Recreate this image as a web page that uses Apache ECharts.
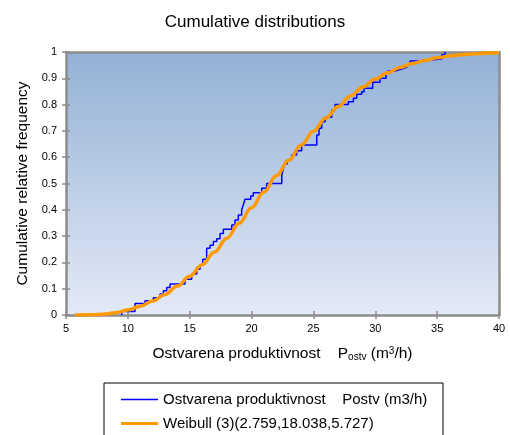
<!DOCTYPE html>
<html>
<head>
<meta charset="utf-8">
<script src="https://cdn.jsdelivr.net/npm/echarts@6/dist/echarts.min.js"></script>
<style>
html,body{margin:0;padding:0;background:#fff;}
#c{width:510px;height:435px;}
</style>
</head>
<body>
<div id="c"></div>
<script>
// Empirical cumulative distribution (step jumps): x values and cumulative frequency after jump
var empX = [9.50, 9.50, 10.58, 11.39, 12.06, 12.60, 12.87, 13.14, 13.41, 14.62, 15.16, 15.57, 15.83, 16.05, 16.37,
            16.64, 16.91, 17.18, 17.45, 17.72, 18.40, 18.66, 18.93, 19.20, 19.33, 19.47, 19.93, 20.14, 20.82, 21.22,
            22.44, 22.57, 22.70, 22.89, 23.24, 23.64, 24.05, 25.27, 25.45, 25.67, 25.94, 26.48, 26.75, 27.82, 28.23,
            28.50, 28.90, 29.09, 29.79, 30.38, 30.87, 31.03, 31.60, 32.14, 32.54, 32.81, 33.35, 35.37, 35.64];
var empY = [0, 0.013, 0.044, 0.054, 0.066, 0.080, 0.092, 0.105, 0.118, 0.136, 0.156, 0.174, 0.190, 0.212, 0.254,
            0.265, 0.279, 0.290, 0.310, 0.326, 0.342, 0.361, 0.380, 0.400, 0.418, 0.440, 0.452, 0.465, 0.482, 0.500,
            0.532, 0.556, 0.575, 0.590, 0.608, 0.625, 0.646, 0.684, 0.710, 0.735, 0.752, 0.779, 0.800, 0.811, 0.824,
            0.839, 0.849, 0.862, 0.885, 0.900, 0.919, 0.928, 0.935, 0.942, 0.950, 0.966, 0.973, 0.990, 1.000];
// Fitted Weibull (3) curve
var fitX = [5.73, 7, 8, 9, 10, 11, 12, 13, 14, 15, 16, 17, 18, 19, 20, 21, 22, 23, 24, 25, 26, 27, 28, 29, 30,
            31, 32, 33, 34, 35, 36, 37, 38, 39, 40];
var fitY = [0, 0.001, 0.003, 0.009, 0.019, 0.033, 0.053, 0.078, 0.110, 0.147, 0.191, 0.239, 0.292, 0.349, 0.408,
            0.468, 0.529, 0.588, 0.645, 0.699, 0.749, 0.793, 0.833, 0.867, 0.897, 0.921, 0.941, 0.956, 0.968, 0.978,
            0.985, 0.990, 0.993, 0.996, 0.997];
var seriesNames = ['Ostvarena produktivnost    Postv (m3/h)', 'Weibull (3)(2.759,18.038,5.727)'];
var titleText = 'Cumulative distributions';
var yName = 'Cumulative relative frequency';

function pairs(xs, ys) { return xs.map(function (x, i) { return [x, ys[i]]; }); }

var FONT = '"Liberation Sans", Arial, sans-serif';
var gray = '#8c8c8c';
var chart = echarts.init(document.getElementById('c'), null, {renderer: 'canvas'});
var axisX = {min: 5, max: 40, interval: 5};
var axisY = {min: 0, max: 1, interval: 0.1};
var legTxt = {fontFamily: FONT, fontSize: 15, color: '#000'};
chart.setOption({
  animation: false,
  backgroundColor: '#fff',
  title: {text: titleText, left: 'center', top: 9,
    textStyle: {fontFamily: FONT, fontSize: 17, fontWeight: 'normal', color: '#000'}},
  grid: {left: 66, right: 11, top: 52, bottom: 120, show: true, borderWidth: 0,
    backgroundColor: {type: 'linear', x: 0, y: 0, x2: 0, y2: 1,
      colorStops: [{offset: 0, color: '#93b1d6'}, {offset: 1, color: '#e4eaf6'}]}},
  xAxis: [
    Object.assign({type: 'value', position: 'bottom',
      name: 'Ostvarena produktivnost    P{sub|ostv} (m{sup|3}/h)', nameLocation: 'middle', nameGap: 30,
      nameTextStyle: {fontFamily: FONT, fontSize: 15.5, color: '#000',
        rich: {sub: {fontFamily: FONT, fontSize: 10, color: '#000', padding: [7, 0, 0, 0]},
               sup: {fontFamily: FONT, fontSize: 10, color: '#000', padding: [0, 0, 5, 0]}}},
      axisLine: {show: true, onZero: false, lineStyle: {color: gray, width: 2.5}},
      axisTick: {show: true, length: 4, lineStyle: {color: gray, width: 1.5}},
      axisLabel: {fontFamily: FONT, fontSize: 11, color: '#000', margin: 8},
      splitLine: {show: false}}, axisX),
    Object.assign({type: 'value', position: 'top',
      axisLine: {show: true, onZero: false, lineStyle: {color: gray, width: 2.5}},
      axisTick: {show: false}, axisLabel: {show: false}, splitLine: {show: false}}, axisX),
    Object.assign({type: 'value', position: 'bottom',
      axisLine: {show: false}, axisTick: {show: true, inside: true, length: 4, lineStyle: {color: gray, width: 1.5}},
      axisLabel: {show: false}, splitLine: {show: false}}, axisX)
  ],
  yAxis: [
    Object.assign({type: 'value', position: 'left',
      name: yName, nameLocation: 'middle', nameGap: 35,
      nameTextStyle: {fontFamily: FONT, fontSize: 15.5, color: '#000'},
      axisLine: {show: true, onZero: false, lineStyle: {color: gray, width: 2.5}},
      axisTick: {show: true, length: 4, lineStyle: {color: gray, width: 1.5}},
      axisLabel: {fontFamily: FONT, fontSize: 11, color: '#000', margin: 9},
      splitLine: {show: false}}, axisY),
    Object.assign({type: 'value', position: 'right',
      axisLine: {show: true, onZero: false, lineStyle: {color: gray, width: 2.5}},
      axisTick: {show: false}, axisLabel: {show: false}, splitLine: {show: false}}, axisY),
    Object.assign({type: 'value', position: 'left',
      axisLine: {show: false}, axisTick: {show: true, inside: true, length: 4, lineStyle: {color: gray, width: 1.5}},
      axisLabel: {show: false}, splitLine: {show: false}}, axisY)
  ],
  legend: [
    {left: 116, top: 387, itemWidth: 37, itemHeight: 1.5, icon: 'rect', textStyle: legTxt,
      data: [seriesNames[0]]},
    {left: 116, top: 411, itemWidth: 37, itemHeight: 3, icon: 'rect', textStyle: legTxt,
      data: [seriesNames[1]]}
  ],
  graphic: [{type: 'rect', shape: {x: 104, y: 383, width: 339, height: 80}, silent: true, z: -1,
    style: {fill: '#fff', stroke: '#000', lineWidth: 1}}],
  series: [
    {name: seriesNames[0], type: 'line', step: 'end', data: pairs(empX, empY), symbol: 'none',
      lineStyle: {color: '#0000ff', width: 1.5}, itemStyle: {color: '#0000ff'}, z: 2},
    {name: seriesNames[1], type: 'line', smooth: 0.4, smoothMonotone: 'x', data: pairs(fitX, fitY), symbol: 'none',
      lineStyle: {color: '#ff9900', width: 3.5}, itemStyle: {color: '#ff9900'}, z: 3}
  ]
});
</script>
</body>
</html>
